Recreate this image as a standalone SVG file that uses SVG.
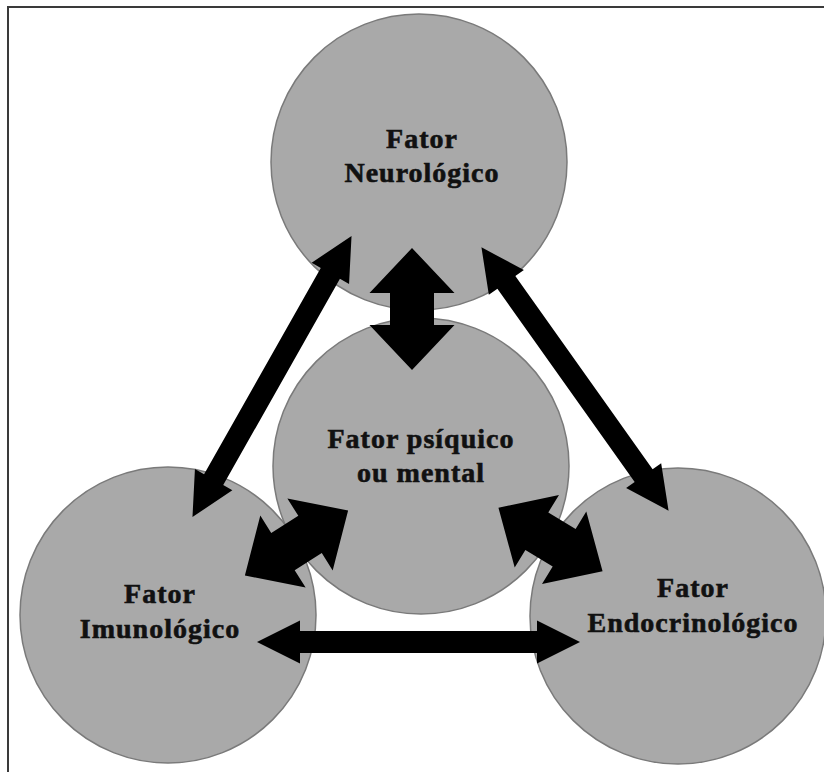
<svg xmlns="http://www.w3.org/2000/svg" xmlns:xlink="http://www.w3.org/1999/xlink" width="824" height="772" viewBox="0 0 824 772">
  <style>
    .node { fill: #a9a9a9; stroke: #7a7a7a; stroke-width: 1.5; }
    .lbl { font-family: "Liberation Serif", "Times New Roman", serif; font-weight: bold; font-size: 28px; letter-spacing: 1px; fill: #111; stroke: #111; stroke-width: 0.6; text-anchor: middle; }
    .arrow { fill: #000; }
    .frame { stroke: #3a3a3a; stroke-width: 2; fill: none; }
  </style>
  <defs>
    <polygon id="thin" points="-161.5,0 -118.5,-21.5 -118.5,-11 118.5,-11 118.5,-21.5 161.5,0 118.5,21.5 118.5,11 -118.5,11 -118.5,21.5"/>
    <polygon id="fat" points="-61,0 -16,-42.5 -16,-22 16,-22 16,-42.5 61,0 16,42.5 16,22 -16,22 -16,42.5"/>
  </defs>
  <rect width="824" height="772" fill="#fff"/>
  <path class="frame" d="M8,772 V7 H824"/>

  <g id="node-imunologico">
    <circle class="node" cx="168" cy="615" r="148"/>
    <text class="lbl" x="160" y="603">Fator</text>
    <text class="lbl" x="160" y="638">Imunológico</text>
  </g>
  <g id="node-endocrinologico">
    <circle class="node" cx="678" cy="616" r="148"/>
    <text class="lbl" x="693" y="597">Fator</text>
    <text class="lbl" x="693" y="632">Endocrinológico</text>
  </g>
  <g id="node-psiquico">
    <circle class="node" cx="421" cy="466" r="148"/>
    <text class="lbl" x="421" y="448">Fator psíquico</text>
    <text class="lbl" x="421" y="482">ou mental</text>
  </g>
  <g id="node-neurologico">
    <circle class="node" cx="419" cy="162" r="148"/>
    <text class="lbl" x="422" y="148">Fator</text>
    <text class="lbl" x="422" y="182">Neurológico</text>
  </g>

  <g id="connectors" class="arrow">
    <use xlink:href="#fat" transform="translate(412,309) rotate(90)"/>
    <use xlink:href="#fat" transform="translate(296.5,543) rotate(-32.2)"/>
    <use xlink:href="#fat" transform="translate(550.5,539.5) rotate(31.4)"/>
    <use xlink:href="#thin" transform="translate(272,376.5) rotate(119.5)"/>
    <use xlink:href="#thin" transform="translate(575,379) rotate(54.6)"/>
    <use xlink:href="#thin" transform="translate(418.5,642)"/>
  </g>
</svg>
